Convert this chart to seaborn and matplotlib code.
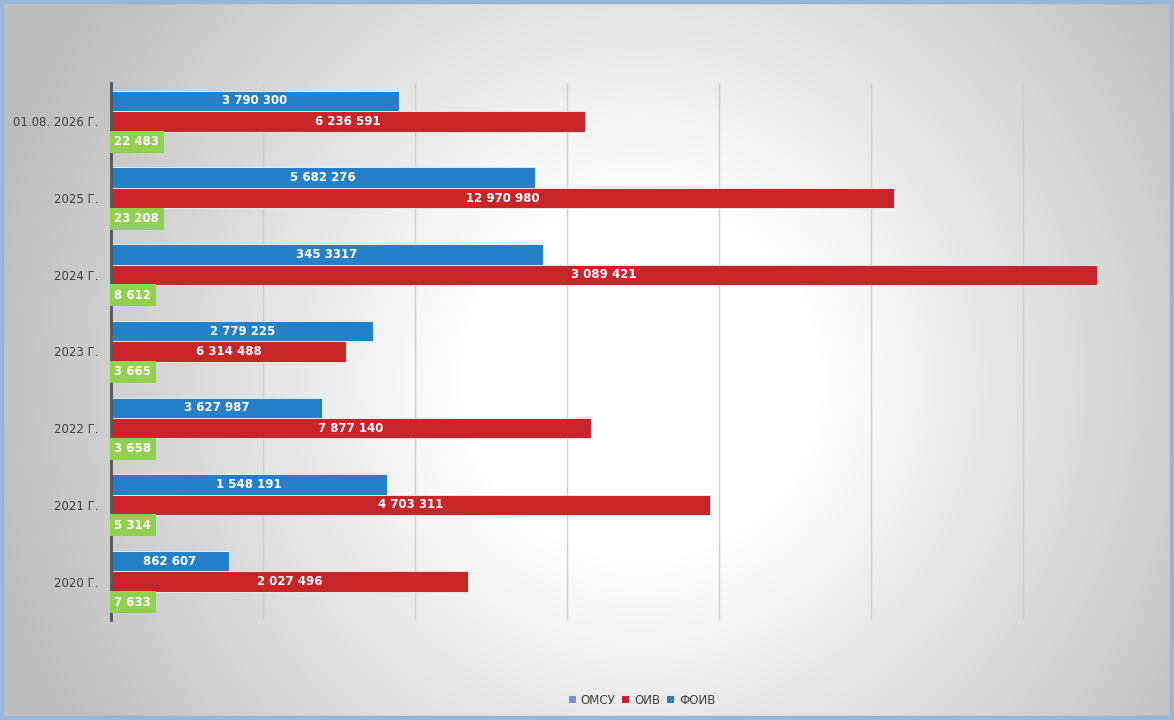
import numpy as np
import pandas as pd
import matplotlib
matplotlib.use("Agg")
import matplotlib.pyplot as plt
from matplotlib.patches import Patch
import seaborn as sns

# categories, top to bottom
years = ["01.08. 2026 Г.", "2025 Г.", "2024 Г.", "2023 Г.", "2022 Г.", "2021 Г.", "2020 Г."]

# bar lengths as drawn in the picture
foiv_vals = [3790300, 5580000, 5682276, 3453317, 2779225, 3627987, 1548191]
oiv_vals = [6236591, 10300000, 12970980, 3089421, 6314488, 7877140, 4703311]
omsu_vals = [22483, 23208, 8612, 3665, 3658, 5314, 7633]

# data labels as printed on the chart
foiv_labels = ["3 790 300", "5 682 276", "345 3317", "2 779 225", "3 627 987", "1 548 191", "862 607"]
oiv_labels = ["6 236 591", "12 970 980", "3 089 421", "6 314 488", "7 877 140", "4 703 311", "2 027 496"]
omsu_labels = ["22 483", "23 208", "8 612", "3 665", "3 658", "5 314", "7 633"]

series = ["ФОИВ", "ОИВ", "ОМСУ"]
colors = {"ФОИВ": "#2680c8", "ОИВ": "#c8252a", "ОМСУ": "#92d050"}
legend_colors = {"ОМСУ": "#7193c7", "ОИВ": "#c8252a", "ФОИВ": "#2680c8"}

df = pd.DataFrame({
    "year": years * 3,
    "series": ["ФОИВ"] * 7 + ["ОИВ"] * 7 + ["ОМСУ"] * 7,
    "value": foiv_vals + oiv_vals + omsu_vals,
})

plt.rcParams["font.family"] = ["DejaVu Sans"]

fig = plt.figure(figsize=(11.74, 7.2), dpi=100)

# background: radial gradient (white in the middle, grey to the edges) + blue frame
bg = fig.add_axes([0, 0, 1, 1], zorder=-10)
h, w = 720, 1174
yy, xx = np.mgrid[0:h, 0:w]
r = np.sqrt((xx - 640) ** 2 + (yy - 380) ** 2)
g = np.clip(1 - 0.25 * (r - 180) / 470, 0.74, 1)
img = np.dstack([g, g, g])
bg.imshow(img, extent=[0, w, h, 0], aspect="auto")
bg.add_patch(plt.Rectangle((0, 0), w, h, fill=False, edgecolor="#98b6da", linewidth=6))
bg.set_xlim(0, w)
bg.set_ylim(h, 0)
bg.axis("off")

ax = fig.add_axes([111 / 1174, 1 - 620 / 720, 988 / 1174, 537 / 720])
ax.set_facecolor("none")

sns.barplot(data=df, y="year", x="value", hue="series", hue_order=series,
            order=years, palette=colors, saturation=1, orient="h", width=0.8,
            dodge=True, edgecolor="#f4f4f4", linewidth=0.6, ax=ax, legend=False)

ax.set_xlim(0, 13000000)
ax.set_ylim(6.5, -0.5)
ax.set_xticks(np.arange(0, 13000001, 2000000))
ax.set_xticklabels([])
ax.tick_params(axis="x", length=0)
ax.tick_params(axis="y", length=0, labelsize=8.5, labelcolor="#404040", pad=9)
ax.grid(axis="x", color="#cfcfcf", linewidth=1)
ax.set_axisbelow(True)
ax.set_xlabel("")
ax.set_ylabel("")
for s in ["top", "right", "bottom"]:
    ax.spines[s].set_visible(False)
ax.spines["left"].set_color("#555555")
ax.spines["left"].set_linewidth(2)

bw = 0.8 / 3
for i in range(len(years)):
    ax.text(foiv_vals[i] / 2, i - bw, foiv_labels[i], ha="center", va="center",
            color="white", fontsize=8.5, fontweight="bold")
    ax.text(oiv_vals[i] / 2, i, oiv_labels[i], ha="center", va="center",
            color="white", fontsize=8.5, fontweight="bold")
    ax.annotate(omsu_labels[i], xy=(0, i + bw), xytext=(2.5, 0), textcoords="offset points",
                ha="left", va="center", color="white", fontsize=8.5, fontweight="bold",
                bbox=dict(boxstyle="square,pad=0.38", facecolor="#92d050", edgecolor="none"),
                annotation_clip=False)

handles = [Patch(facecolor=legend_colors[s], label=s) for s in ["ОМСУ", "ОИВ", "ФОИВ"]]
fig.legend(handles=handles, loc="center", bbox_to_anchor=(642 / 1174, 1 - 700 / 720),
           ncol=3, frameon=False, fontsize=8.5, handlelength=0.6, handleheight=0.6,
           handletextpad=0.4, columnspacing=0.6, labelcolor="#404040")

fig.savefig("out.png", dpi=100)
